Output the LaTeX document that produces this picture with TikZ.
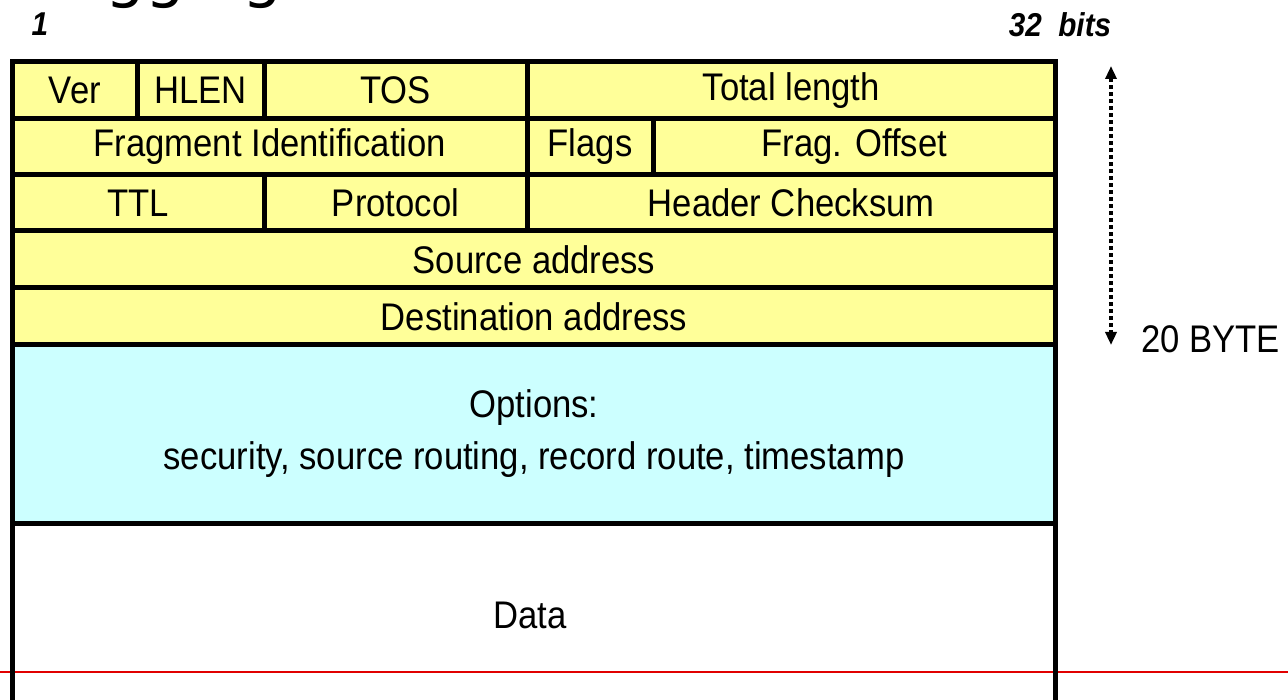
\documentclass[tikz,border=0pt]{standalone}
\usepackage{fontspec}
\setmainfont{Liberation Sans}
\newfontfamily\cellfont[FakeStretch=0.9]{Liberation Sans}
\newfontfamily\titlefont{DejaVu Sans}
\usetikzlibrary{fit,arrows.meta}

\definecolor{hdryellow}{RGB}{255,255,153}
\definecolor{optcyan}{RGB}{204,255,255}
\definecolor{rulered}{RGB}{225,0,0}

\newcommand\celltext{\cellfont\fontsize{38.5}{46}\selectfont}
\newcommand\opttext{\cellfont\fontsize{38.5}{52}\selectfont}

\tikzset{
  field/.style={draw=black, line width=5pt, fill=hdryellow, inner sep=0pt},
  optfield/.style={field, fill=optcyan},
  datafield/.style={field, fill=none},
  celllabel/.style={font=\celltext, inner sep=0pt},
  bitlabel/.style={font=\cellfont\fontsize{33}{38}\selectfont\bfseries\itshape, inner sep=0pt},
  sizelabel/.style={celllabel, anchor=west},
  span/.style={line width=3.5pt, dash pattern=on 3.5pt off 3.5pt,
    {Triangle[width=11pt,length=13pt]}-{Triangle[width=11pt,length=13pt]}},
  redrule/.style={draw=rulered, line width=1.6pt}
}

\begin{document}
\begin{tikzpicture}[x=1pt,y=-1pt]
  \fill[white] (0,0) rectangle (1288,700);
  \useasboundingbox (0,0) rectangle (1288,700);
  \clip (0,0) rectangle (1288,700);

  % slide title, cut by the page edge
  \node[anchor=base west, inner sep=0pt, font=\fontsize{63}{70}\titlefont] (title) at (-62,-4) {Debugging};

  % bit numbering above the header
  \node[bitlabel] (bitone) at (40,24) {1};
  \node[bitlabel] (bitlast) at (1060,25) {32\ \ bits};

  % red rule behind the data area
  \coordinate (ruleL) at (0,672);
  \coordinate (ruleR) at (1288,672);
  \draw[redrule] (ruleL) -- (ruleR);

  % row 1
  \node[field, fit={(12.5,62) (137.5,119)}] (ver) {};
  \node[celllabel] at (ver.center) {Ver};
  \node[field, fit={(137.5,62) (264,119)}] (hlen) {};
  \node[celllabel] at (hlen.center) {HLEN};
  \node[field, fit={(264,62) (527,119)}] (tos) {};
  \node[celllabel] at (tos.center) {TOS};
  \node[field, fit={(527,62) (1055.5,119)}] (totlen) {};
  \node[celllabel] at (totlen.center) {Total length};

  % row 2
  \node[field, fit={(12.5,119) (527,175)}] (fragid) {};
  \node[celllabel] at (fragid.center) {Fragment Identification};
  \node[field, fit={(527,119) (653,175)}] (flags) {};
  \node[celllabel] at (flags.center) {Flags};
  \node[field, fit={(653,119) (1055.5,175)}] (fragoff) {};
  \node[celllabel] at (fragoff.center) {Frag. Offset};

  % row 3
  \node[field, fit={(12.5,175) (264,231)}] (ttl) {};
  \node[celllabel] at (ttl.center) {TTL};
  \node[field, fit={(264,175) (527,231)}] (proto) {};
  \node[celllabel] at (proto.center) {Protocol};
  \node[field, fit={(527,175) (1055.5,231)}] (chk) {};
  \node[celllabel] at (chk.center) {Header Checksum};

  % rows 4 and 5
  \node[field, fit={(12.5,231) (1055.5,288)}] (src) {};
  \node[celllabel] at (src.center) {Source address};
  \node[field, fit={(12.5,288) (1055.5,345)}] (dst) {};
  \node[celllabel] at (dst.center) {Destination address};

  % options
  \node[optfield, fit={(12.5,345) (1055.5,523)}] (opts) {};
  \node[inner sep=0pt, align=center, font=\opttext] (optstext) at (opts.center)
    {Options:\\security, source routing, record route, timestamp};

  % data area, running off the page
  \node[datafield, fit={(12.5,523) (1055.5,780)}] (data) {};
  \node[celllabel] (datatext) at (530,615) {Data};

  % header size marker
  \coordinate (spantop) at (1111,66);
  \coordinate (spanbot) at (1111,345);
  \draw[span] (spantop) -- (spanbot);
  \node[sizelabel] (bytes) at (1141,339) {20 BYTE};
\end{tikzpicture}
\end{document}
